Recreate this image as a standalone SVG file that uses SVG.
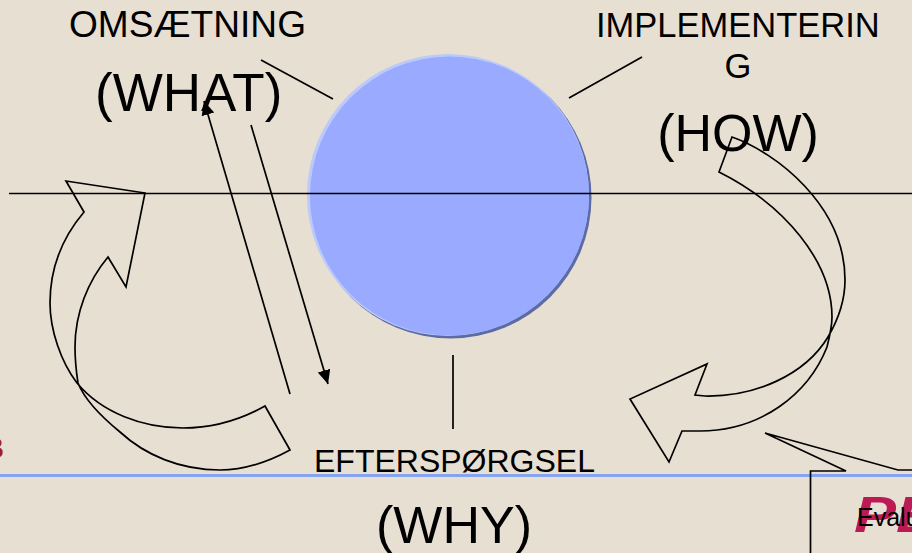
<svg xmlns="http://www.w3.org/2000/svg" width="912" height="553" viewBox="0 0 912 553">
<style>
text{font-family:"Liberation Sans",Arial,sans-serif;fill:#000}
.l{fill:none;stroke:#000;stroke-width:1.7}
</style>
<defs><marker id="a" markerWidth="15" markerHeight="14" refX="14" refY="6.500" orient="auto" markerUnits="userSpaceOnUse"><path d="M0 0L14 6.500L0 13Z" fill="#000"/></marker></defs>
<rect width="912" height="553" fill="#e8dfd3"/>
<text x="-17" y="458" style="font-size:29px;font-weight:bold;fill:#a5200f">B</text>
<line x1="0" y1="475.500" x2="912" y2="475.500" stroke="#84a4f2" stroke-width="3"/>
<g id="ball">
<circle cx="450.500" cy="197.500" r="141" fill="#5c6ba4"/>
<circle cx="448" cy="195" r="141" fill="#bccafa"/>
<circle cx="449.500" cy="196" r="139.500" fill="#99aaff"/>
</g>
<g id="labels">
<text x="69" y="37" style="font-size:36px" textLength="237" lengthAdjust="spacingAndGlyphs">OMSÆTNING</text>
<text x="95" y="111" style="font-size:53px">(WHAT)</text>
<text x="596" y="37" style="font-size:34.500px">IMPLEMENTERIN</text>
<text x="738" y="78" text-anchor="middle" style="font-size:34.500px">G</text>
<text x="738" y="151" text-anchor="middle" style="font-size:52px">(HOW)</text>
<text x="314" y="472" style="font-size:32px">EFTERSPØRGSEL</text>
<text x="376" y="543" style="font-size:52px">(WHY)</text>
</g>
<g id="connectors">
<line class="l" x1="261" y1="60" x2="333" y2="99"/>
<line class="l" x1="569" y1="98" x2="642" y2="57"/>
<line class="l" x1="453" y1="355" x2="453" y2="429"/>
<line class="l" x1="9" y1="193.500" x2="912" y2="193.500"/>
<line class="l" x1="290" y1="394" x2="204" y2="101" marker-end="url(#a)"/>
<line class="l" x1="251" y1="125" x2="328" y2="384" marker-end="url(#a)"/>
</g>
<g id="left-arrow">
<path class="l" d="M145 193L66 181L84 212C62 238 50 270 50 303C50 330 61 362 77 383C102 413 143 428 183 428C212 428 240 420 265 406L290 450C268 462 245 470 220 470C180 470 145 455 120 432C98 414 84 398 78 383C76 370 75 358 75 347C75 313 88 281 108 257L126 287Z"/>
</g>
<g id="right-arrow">
<path class="l" d="M732 137C775 152 845 205 845 280C845 300 838 320 828 337C805 375 755 397 705 396L695 395L707 364L630 399L669 462L682 431L700 431C760 431 808 395 827 347C830 335 832 325 832 317C832 262 785 205 719 172Z"/>
</g>
<g id="callout">
<path d="M912 470L898 470L765 433L846 471L810.500 471L810.500 553" class="l"/>
<text x="854" y="532" style="font-size:50px;font-weight:bold;font-style:italic;fill:#bc1a55" textLength="84" lengthAdjust="spacingAndGlyphs">PE</text>
<text x="857" y="526" style="font-size:25px">Evalu</text>
</g>
</svg>
